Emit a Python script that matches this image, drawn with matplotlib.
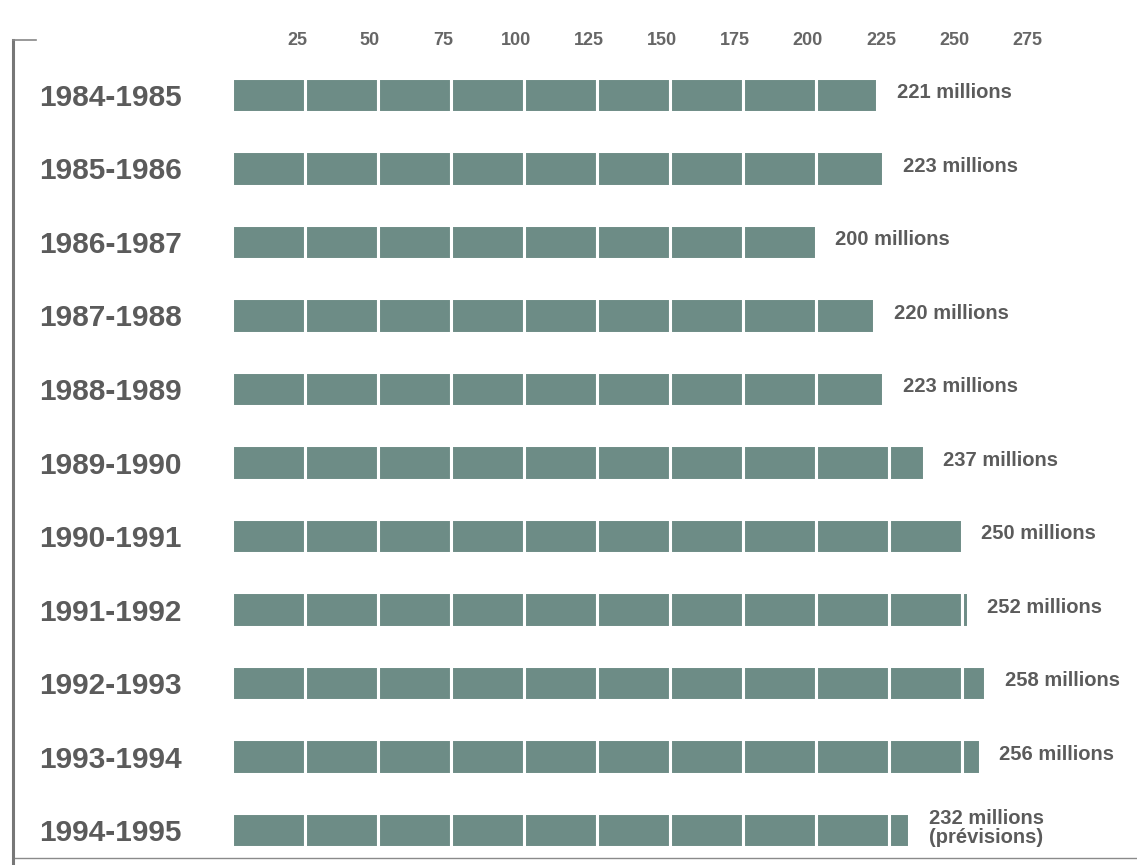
import matplotlib
matplotlib.use("Agg")
import matplotlib.pyplot as plt
from matplotlib.lines import Line2D
from matplotlib.transforms import ScaledTranslation

# Données : nombre de visiteurs par saison (en millions)
saisons = ["1984-1985", "1985-1986", "1986-1987", "1987-1988", "1988-1989",
           "1989-1990", "1990-1991", "1991-1992", "1992-1993", "1993-1994",
           "1994-1995"]
valeurs = [221, 223, 200, 220, 223, 237, 250, 252, 258, 256, 232]
etiquettes = ["221 millions", "223 millions", "200 millions", "220 millions",
              "223 millions", "237 millions", "250 millions", "252 millions",
              "258 millions", "256 millions", "232 millions\n(prévisions)"]
graduations = [25, 50, 75, 100, 125, 150, 175, 200, 225, 250, 275]
pas = 25

couleur_barre = "#6d8c86"
couleur_texte = "#5b5b5b"

W, H = 1137, 865
fig = plt.figure(figsize=(W / 100, H / 100), dpi=100)
fig.patch.set_facecolor("white")

ax = fig.add_axes([232 / W, 0, 1 - 232 / W, 1 - 60 / H])
ax.set_xlim(0, 905 / 2.92)
ax.set_ylim(10.476, -0.476)

# Barres découpées en blocs de 25 millions
for i, v in enumerate(valeurs):
    debut = 0
    while debut < v:
        largeur = min(pas, v - debut)
        ax.barh(i, largeur, left=debut, height=0.47, color=couleur_barre,
                edgecolor="white", linewidth=2.2)
        debut += largeur
    ax.annotate(etiquettes[i], xy=(v, i), xytext=(14, 1.5),
                textcoords="offset points", ha="left", va="center",
                fontsize=14.5, fontweight="bold", color=couleur_texte,
                family="Liberation Sans", linespacing=0.95)

# Graduations en haut
ax.xaxis.tick_top()
ax.set_xticks(graduations)
ax.set_xticklabels([str(g) for g in graduations], fontsize=13,
                   fontweight="bold", color="#666666", family="Liberation Sans")
ax.tick_params(axis="x", length=0, pad=8)
for lab in ax.get_xticklabels():
    lab.set_transform(lab.get_transform() +
                      ScaledTranslation(-0.08, 0, fig.dpi_scale_trans))

# Libellés des saisons
ax.set_yticks(range(len(saisons)))
ax.set_yticklabels(saisons, fontsize=21.5, fontweight="bold",
                   color=couleur_texte, family="Liberation Sans")
ax.tick_params(axis="y", length=0, pad=36)

for s in ax.spines.values():
    s.set_visible(False)
ax.set_facecolor("none")

# Cadre : crochet à gauche et filet en bas
fig.add_artist(Line2D([13 / W, 13 / W], [0, 1 - 40 / H], color="#777777",
                      lw=2.2, transform=fig.transFigure))
fig.add_artist(Line2D([13 / W, 36 / W], [1 - 40 / H, 1 - 40 / H],
                      color="#888888", lw=1.2, transform=fig.transFigure))
fig.add_artist(Line2D([15 / W, 1], [1 - 858 / H, 1 - 858 / H],
                      color="#8a8a8a", lw=1.0, transform=fig.transFigure))

fig.savefig("out.png", dpi=100)
